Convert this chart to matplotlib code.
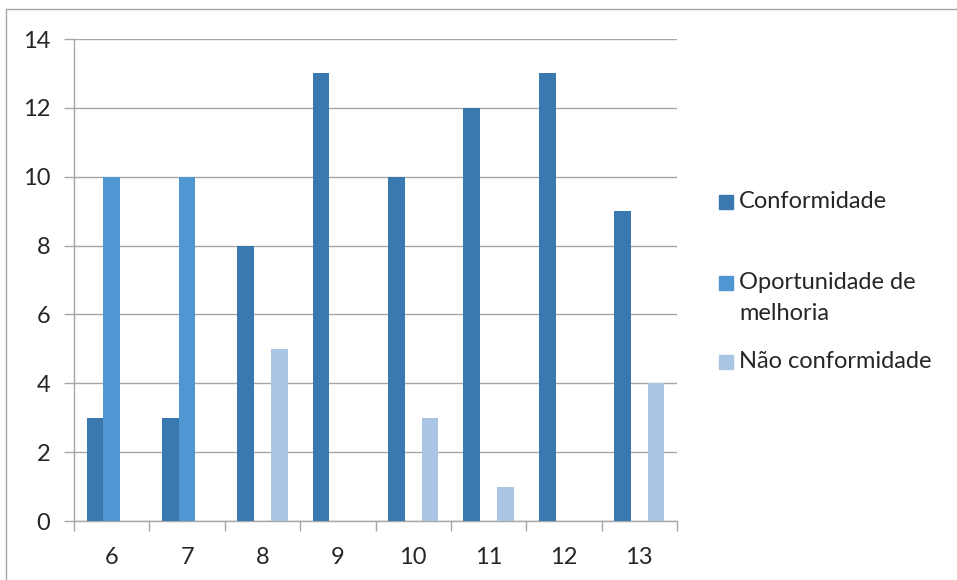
import matplotlib
matplotlib.use("Agg")
import matplotlib.pyplot as plt
from matplotlib.patches import Rectangle
import numpy as np

categories = ["6", "7", "8", "9", "10", "11", "12", "13"]
conformidade = [3, 3, 8, 13, 10, 12, 13, 9]
oportunidade = [10, 10, 0, 0, 0, 0, 0, 0]
nao_conformidade = [0, 0, 5, 0, 3, 1, 0, 4]
series_names = ["Conformidade", "Oportunidade de", "Não conformidade"]
extra_line = "melhoria"
colors = ["#3C78B0", "#5096D2", "#AAC4E4"]

plt.rcParams['font.family'] = ['Lato', 'DejaVu Sans']
FS = 17
fig = plt.figure(figsize=(9.57, 5.8), dpi=100)
ax = fig.add_axes([74/957, 1-521/580, (677-74)/957, (521-39)/580])

x = np.arange(len(categories))
w = 1/4.5
for i, (vals, c) in enumerate(zip([conformidade, oportunidade, nao_conformidade], colors)):
    ax.bar(x + (i-1)*w, vals, width=w, color=c, zorder=3)

ax.set_xlim(-0.5, len(categories)-0.5)
ax.set_ylim(0, 14)
ax.set_yticks(range(0, 15, 2))
ax.yaxis.grid(True, color="#A6A6A6", linewidth=1, zorder=0)
ax.set_xticks(np.arange(-0.5, len(categories), 1.0))
ax.set_xticklabels([])
ax.set_xticks(x, minor=True)
ax.set_xticklabels(categories, minor=True)
ax.tick_params(axis='x', which='major', length=7, color="#A6A6A6", width=1)
ax.tick_params(axis='x', which='minor', length=0, pad=19, labelsize=FS, labelcolor="#262626")
ax.tick_params(axis='y', length=7, color="#A6A6A6", width=1, pad=10, labelsize=FS, labelcolor="#262626")
for s in ["top", "right"]:
    ax.spines[s].set_visible(False)
for s in ["left", "bottom"]:
    ax.spines[s].set_color("#A6A6A6")
    ax.spines[s].set_linewidth(1)

# legend drawn manually
legend_y = [202, 283, 362]
for name, c, yy in zip(series_names, colors, legend_y):
    fig.patches.append(Rectangle((719/957, 1-(yy+7)/580), 14/957, 14/580,
                                 transform=fig.transFigure, color=c))
    fig.text(739/957, 1-yy/580, name, fontsize=FS, color="#262626",
             va="center", ha="left")
fig.text(739/957, 1-313/580, extra_line, fontsize=FS, color="#262626",
         va="center", ha="left")

# outer border
fig.patches.append(Rectangle((6/957, -0.05), 1.0, 1-9/580+0.05, transform=fig.transFigure,
                             fill=False, edgecolor="#A6A6A6", linewidth=1))

fig.savefig("out.png", dpi=100)
